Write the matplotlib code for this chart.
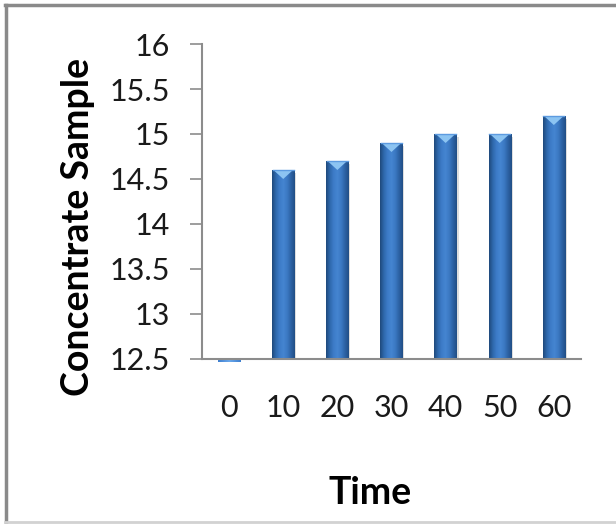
import numpy as np
import matplotlib
matplotlib.use("Agg")
import matplotlib.pyplot as plt
from matplotlib.colors import LinearSegmentedColormap
from matplotlib.patches import Polygon
from matplotlib.lines import Line2D

# data
times = ["0", "10", "20", "30", "40", "50", "60"]
concentrate = [12.47, 14.6, 14.7, 14.9, 15.0, 15.0, 15.2]
y_ticks = [12.5, 13, 13.5, 14, 14.5, 15, 15.5, 16]
y_labels = ["12.5", "13", "13.5", "14", "14.5", "15", "15.5", "16"]

plt.rcParams["font.family"] = ["Lato", "DejaVu Sans"]

fig = plt.figure(figsize=(6.16, 5.24), dpi=100)
ax = fig.add_axes([0.328, 0.315, 0.615, 0.601])

# shaded "cylinder" look of the excel bars
bar_cmap = LinearSegmentedColormap.from_list(
    "excel_blue",
    ["#1f4a7c", "#2f69ad", "#3d7cc8", "#4585d1", "#3b79c3", "#2d62a4", "#214f86"])
grad = np.linspace(0, 1, 64).reshape(1, -1)

base = 12.5
width = 0.41
x = np.arange(len(times))
bars = ax.bar(x, np.array(concentrate) - base, width, bottom=base,
              color="none", edgecolor="none")

for rect, val in zip(bars, concentrate):
    x0 = rect.get_x()
    x1 = x0 + rect.get_width()
    lo, hi = min(base, val), max(base, val)
    if val < base:
        ax.imshow(grad, extent=[x0, x1, lo, hi], aspect="auto",
                  cmap=LinearSegmentedColormap.from_list(
                      "z", ["#3d7fd0", "#6aa8ec", "#3d7fd0"]),
                  zorder=2, clip_on=False)
        continue
    # soft shadow on the right
    ax.fill_between([x1, x1 + 0.035], base, hi - 0.03, color="#c8c8c8",
                    alpha=0.6, zorder=1, linewidth=0)
    ax.imshow(grad, extent=[x0, x1, lo, hi], aspect="auto", cmap=bar_cmap,
              zorder=2)
    # bevel highlight on the top
    w = x1 - x0
    tri = Polygon([[x0 + 0.06 * w, hi], [x1 - 0.06 * w, hi],
                   [x0 + 0.5 * w, hi - 0.1]], closed=True,
                  facecolor="#8cc4f2", edgecolor="none", zorder=3)
    ax.add_patch(tri)
    ax.plot([x0 + 0.03 * w, x1 - 0.03 * w], [hi, hi], color="#5d9be0",
            linewidth=1, zorder=3)

ax.set_xlim(-0.5, len(times) - 0.5)
ax.set_ylim(12.5, 16)
ax.set_yticks(y_ticks)
ax.set_yticklabels(y_labels)
ax.set_xticks(x)
ax.set_xticklabels(times)

for side in ["top", "right"]:
    ax.spines[side].set_visible(False)
for side in ["left", "bottom"]:
    ax.spines[side].set_color("#8c8c8c")
    ax.spines[side].set_linewidth(1.5)
    ax.spines[side].set_zorder(4)

ax.tick_params(axis="y", direction="out", length=9, width=1.2,
               color="#8c8c8c", pad=14, labelsize=22, labelcolor="#1a1a1a")
ax.tick_params(axis="x", length=0, pad=25, labelsize=22,
               labelcolor="#1a1a1a")

ax.set_ylabel("Concentrate Sample", fontsize=27, fontweight="bold")
ax.set_xlabel("Time", fontsize=27, fontweight="bold")
ax.yaxis.set_label_coords(-0.327, 0.42)
ax.xaxis.set_label_coords(0.443, -0.425)
ax.yaxis.label.set_va("center")
ax.xaxis.label.set_va("center")

# outer frame like the excel chart area
fig.add_artist(Line2D([5 / 616, 1], [1 - 5 / 524, 1 - 5 / 524],
                      transform=fig.transFigure, color="#8a8a8a", linewidth=2.5))
fig.add_artist(Line2D([6 / 616, 6 / 616], [1 - 5 / 524, 1 / 524],
                      transform=fig.transFigure, color="#8a8a8a", linewidth=2.5))
fig.add_artist(Line2D([5 / 616, 1], [2 / 524, 2 / 524],
                      transform=fig.transFigure, color="#d2d2d2", linewidth=2))

fig.savefig("out.png", dpi=100)
